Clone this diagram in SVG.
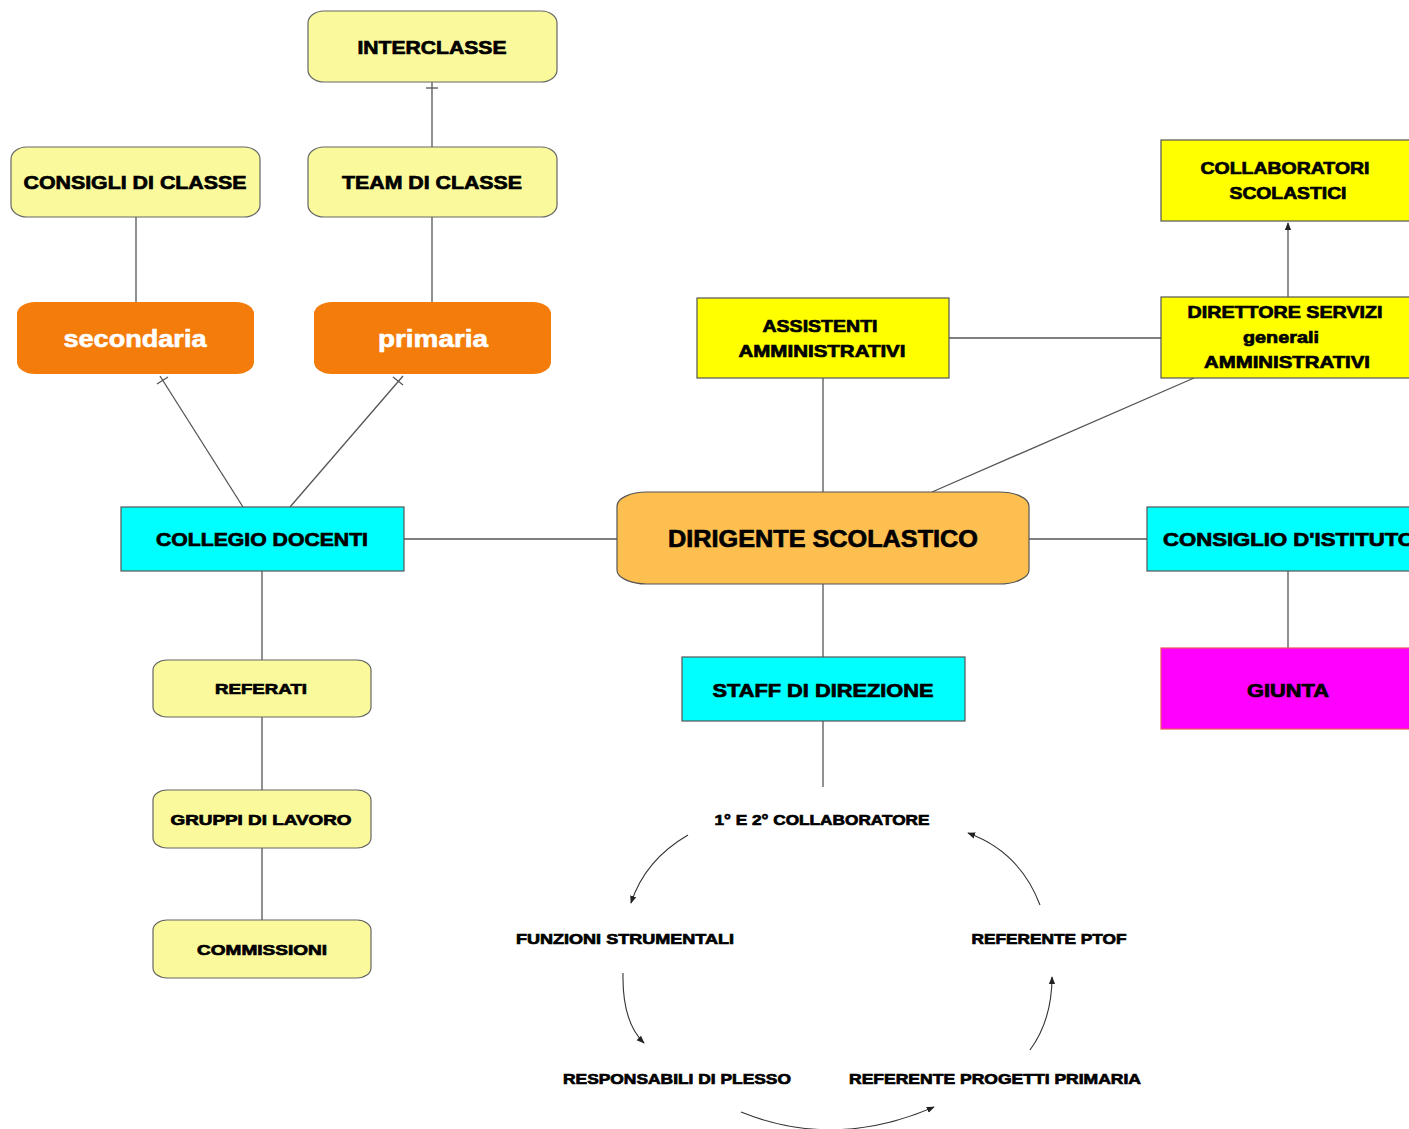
<svg xmlns="http://www.w3.org/2000/svg" width="1409" height="1129" viewBox="0 0 1409 1129">
<defs>
<style>
.t{font-family:"Liberation Sans",Arial,sans-serif;font-weight:bold;fill:#000;text-anchor:middle;stroke:#000;stroke-width:0.7;paint-order:stroke}
.w{font-family:"Liberation Sans",Arial,sans-serif;font-weight:bold;fill:#fff;text-anchor:middle;stroke:#fff;stroke-width:0.6}
.pale{fill:#FAFA9C;stroke:#666;stroke-width:1.2}
.org{fill:#F47C0A;stroke:none}
.cy{fill:#00FFFF;stroke:#555;stroke-width:1.2}
.ye{fill:#FFFF00;stroke:#555;stroke-width:1.2}
.ln{stroke:#555;stroke-width:1.3;fill:none}
.arc{stroke:#333;stroke-width:1.1;fill:none;marker-end:url(#ah)}
</style>
<marker id="ah" viewBox="0 0 10 10" refX="9" refY="5" markerWidth="8" markerHeight="8" orient="auto" markerUnits="userSpaceOnUse">
<path d="M0,1 L10,5 L0,9 z" fill="#222"/>
</marker>
</defs>
<rect width="1409" height="1129" fill="#fff"/>

<g id="connectors">
<line class="ln" x1="432" y1="82" x2="432" y2="147"/>
<line class="ln" x1="426" y1="88" x2="438" y2="88"/>
<line class="ln" x1="136" y1="217" x2="136" y2="302"/>
<line class="ln" x1="432" y1="217" x2="432" y2="302"/>
<line class="ln" x1="243" y1="507" x2="160" y2="376"/>
<line class="ln" x1="157" y1="384" x2="168" y2="377"/>
<line class="ln" x1="290" y1="507" x2="403" y2="376"/>
<line class="ln" x1="393" y1="377" x2="403" y2="385"/>
<line class="ln" x1="404" y1="539" x2="617" y2="539"/>
<line class="ln" x1="1029" y1="539" x2="1147" y2="539"/>
<line class="ln" x1="1288" y1="571" x2="1288" y2="648"/>
<line class="ln" x1="949" y1="338" x2="1161" y2="338"/>
<line class="ln" x1="1288" y1="297" x2="1288" y2="223" marker-end="url(#ah)"/>
<line class="ln" x1="823" y1="378" x2="823" y2="492"/>
<line class="ln" x1="1194" y1="378" x2="932" y2="492"/>
<line class="ln" x1="823" y1="584" x2="823" y2="657"/>
<line class="ln" x1="823" y1="721" x2="823" y2="787" stroke="#222"/>
<line class="ln" x1="262" y1="571" x2="262" y2="660"/>
<line class="ln" x1="262" y1="717" x2="262" y2="790"/>
<line class="ln" x1="262" y1="848" x2="262" y2="920"/>
<path class="arc" d="M688,835 Q645,860 631,903"/>
<path class="arc" d="M623,973 Q622,1022 644,1043"/>
<path class="arc" d="M741,1112 Q835,1150 934,1107"/>
<path class="arc" d="M1030,1050 Q1052,1020 1052,977"/>
<path class="arc" d="M1040,905 Q1020,852 968,833"/>
</g>

<g id="interclasse"><rect class="pale" x="308" y="11" width="249" height="71" rx="16" ry="12"/><text class="t" x="432" y="54" font-size="19" textLength="149" lengthAdjust="spacingAndGlyphs">INTERCLASSE</text></g>
<g id="consigli-classe"><rect class="pale" x="11" y="147" width="249" height="70" rx="16" ry="12"/><text class="t" x="135" y="189" font-size="19" textLength="223" lengthAdjust="spacingAndGlyphs">CONSIGLI DI CLASSE</text></g>
<g id="team-classe"><rect class="pale" x="308" y="147" width="249" height="70" rx="16" ry="12"/><text class="t" x="432" y="189" font-size="19" textLength="180" lengthAdjust="spacingAndGlyphs">TEAM DI CLASSE</text></g>
<g id="secondaria"><rect class="org" x="17" y="302" width="237" height="72" rx="18" ry="12"/><text class="w" x="135" y="347" font-size="23" textLength="143" lengthAdjust="spacingAndGlyphs">secondaria</text></g>
<g id="primaria"><rect class="org" x="314" y="302" width="237" height="72" rx="18" ry="12"/><text class="w" x="433" y="347" font-size="23" textLength="110" lengthAdjust="spacingAndGlyphs">primaria</text></g>
<g id="collegio-docenti"><rect class="cy" x="121" y="507" width="283" height="64"/><text class="t" x="262" y="546" font-size="19" textLength="212" lengthAdjust="spacingAndGlyphs">COLLEGIO DOCENTI</text></g>
<g id="dirigente"><rect x="617" y="492" width="412" height="92" rx="30" ry="14" fill="#FDBF4F" stroke="#555" stroke-width="1.2"/><text class="t" x="823" y="547" font-size="24" textLength="310" lengthAdjust="spacingAndGlyphs">DIRIGENTE SCOLASTICO</text></g>
<g id="consiglio-istituto"><rect class="cy" x="1147" y="507" width="270" height="64"/><text class="t" x="1163" y="546" font-size="19" text-anchor="start" style="text-anchor:start" textLength="252" lengthAdjust="spacingAndGlyphs">CONSIGLIO D'ISTITUTO</text></g>
<g id="giunta"><rect x="1161" y="648" width="256" height="81" fill="#FF00FF" stroke="#F05060" stroke-width="1.2"/><text class="t" x="1288" y="697" font-size="19" textLength="82" lengthAdjust="spacingAndGlyphs">GIUNTA</text></g>
<g id="assistenti"><rect class="ye" x="697" y="298" width="252" height="80"/><text class="t" x="820" y="332" font-size="17" textLength="115" lengthAdjust="spacingAndGlyphs">ASSISTENTI</text><text class="t" x="822" y="357" font-size="17" textLength="167" lengthAdjust="spacingAndGlyphs">AMMINISTRATIVI</text></g>
<g id="direttore"><rect class="ye" x="1161" y="297" width="256" height="81"/><text class="t" x="1285" y="318" font-size="17" textLength="195" lengthAdjust="spacingAndGlyphs">DIRETTORE SERVIZI</text><text class="t" x="1281" y="343" font-size="17" textLength="76" lengthAdjust="spacingAndGlyphs">generali</text><text class="t" x="1287" y="368" font-size="17" textLength="166" lengthAdjust="spacingAndGlyphs">AMMINISTRATIVI</text></g>
<g id="collaboratori"><rect class="ye" x="1161" y="140" width="256" height="81"/><text class="t" x="1285" y="174" font-size="17" textLength="169" lengthAdjust="spacingAndGlyphs">COLLABORATORI</text><text class="t" x="1288" y="199" font-size="17" textLength="117" lengthAdjust="spacingAndGlyphs">SCOLASTICI</text></g>
<g id="staff"><rect class="cy" x="682" y="657" width="283" height="64"/><text class="t" x="823" y="697" font-size="19" textLength="221" lengthAdjust="spacingAndGlyphs">STAFF DI DIREZIONE</text></g>
<g id="referati"><rect class="pale" x="153" y="660" width="218" height="57" rx="14" ry="10"/><text class="t" x="261" y="694" font-size="15" textLength="92" lengthAdjust="spacingAndGlyphs">REFERATI</text></g>
<g id="gruppi"><rect class="pale" x="153" y="790" width="218" height="58" rx="14" ry="10"/><text class="t" x="261" y="825" font-size="15" textLength="181" lengthAdjust="spacingAndGlyphs">GRUPPI DI LAVORO</text></g>
<g id="commissioni"><rect class="pale" x="153" y="920" width="218" height="58" rx="14" ry="10"/><text class="t" x="262" y="955" font-size="15" textLength="130" lengthAdjust="spacingAndGlyphs">COMMISSIONI</text></g>
<g id="collaboratore-1-2"><text class="t" x="822" y="825" font-size="15" stroke-width="0.4" textLength="215" lengthAdjust="spacingAndGlyphs">1° E 2° COLLABORATORE</text></g>
<g id="funzioni"><text class="t" x="625" y="944" font-size="15" stroke-width="0.4" textLength="218" lengthAdjust="spacingAndGlyphs">FUNZIONI STRUMENTALI</text></g>
<g id="ptof"><text class="t" x="1049" y="944" font-size="15" stroke-width="0.4" textLength="155" lengthAdjust="spacingAndGlyphs">REFERENTE PTOF</text></g>
<g id="responsabili"><text class="t" x="677" y="1084" font-size="15" stroke-width="0.4" textLength="228" lengthAdjust="spacingAndGlyphs">RESPONSABILI DI PLESSO</text></g>
<g id="progetti"><text class="t" x="995" y="1084" font-size="15" stroke-width="0.4" textLength="292" lengthAdjust="spacingAndGlyphs">REFERENTE PROGETTI PRIMARIA</text></g>
</svg>
